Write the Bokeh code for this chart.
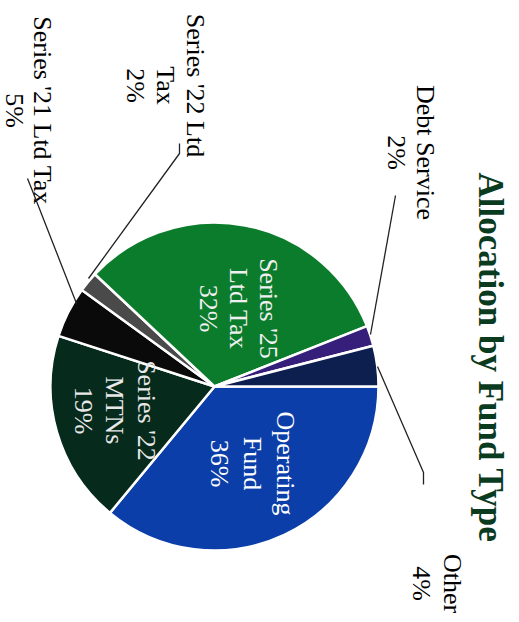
import math
from bokeh.plotting import figure
from bokeh.models import Range1d, ColumnDataSource
from bokeh.core.properties import value
from bokeh.embed import file_html
from bokeh.resources import INLINE

# ---- data ----
categories = ["Operating Fund", "Series '22 MTNs", "Series '21 Ltd Tax",
              "Series '22 Ltd Tax", "Series '25 Ltd Tax", "Debt Service", "Other"]
values = [36, 19, 5, 2, 32, 2, 4]
colors = ["#0b3ea8", "#062a1c", "#0a0a0a", "#4a4a4a", "#0b7c2b", "#361f7a", "#0c1f4f"]
label_lines = [["Operating", "Fund", "36%"],
               ["Series '22", "MTNs", "19%"],
               ["Series '21 Ltd Tax", "5%"],
               ["Series '22 Ltd", "Tax", "2%"],
               ["Series '25", "Ltd Tax", "32%"],
               ["Debt Service", "2%"],
               ["Other", "4%"]]
title = "Allocation by Fund Type"

W, H = 511, 614


def P(X, Y):
    # picture pixel -> data coordinates
    return X, H - Y


p = figure(width=W, height=H, output_backend="svg", toolbar_location=None,
           x_range=Range1d(0, W), y_range=Range1d(0, H), min_border=0)
p.axis.visible = False
p.grid.visible = False
p.outline_line_color = None
p.background_fill_color = "white"

cx, cy = P(214, 386)
R = 164

total = sum(values)
starts, ends = [], []
cum = 0.0
for v in values:
    a0 = cum / total * 2 * math.pi
    cum += v
    a1 = cum / total * 2 * math.pi
    # screen clockwise from 3 o'clock
    starts.append(-a1)
    ends.append(-a0)

src = ColumnDataSource(dict(start=starts, end=ends, color=colors, cat=categories))
p.wedge(x=cx, y=cy, radius=R, start_angle="start", end_angle="end",
        fill_color="color", line_color="white", line_width=2.5, source=src)

# label positions (picture px): list of line x's, and center y
label_pos = [
    ([285, 252, 219], 463, "white"),
    ([146, 114, 83], 410, "#e8e8e8"),
    ([42, 14], 110, "black"),
    ([195, 165, 135], 85, "black"),
    ([268, 238, 208], 308, "#f0f0f0"),
    ([425, 396], 152, "black"),
    ([452, 421], 583, "black"),
]
for lines, (xs, yc, col) in zip(label_lines, label_pos):
    for t, X in zip(lines, xs):
        x, y = P(X, yc)
        p.text(x=[x], y=[y], text=[t], angle=-math.pi / 2,
               text_align="center", text_baseline="middle",
               text_font=value("Liberation Serif"), text_font_size="26px",
               text_color=col)

# leader lines (picture px)
leaders = [
    [(395, 195), (370, 334)],
    [(377, 366), (423, 472), (423, 484)],
    [(179, 143), (179, 153), (88, 278)],
    [(27, 178), (33, 193), (76, 303)],
]
for pts in leaders:
    xs = [P(a, b)[0] for a, b in pts]
    ys = [P(a, b)[1] for a, b in pts]
    p.line(xs, ys, line_color="#222222", line_width=1.3)

tx, ty = P(490, 357)
p.text(x=[tx], y=[ty], text=[title], angle=-math.pi / 2,
       text_align="center", text_baseline="middle",
       text_font=value("Liberation Serif"), text_font_style="bold",
       text_font_size="35px", text_color="#0b3b1f")

open("out.html", "w").write(file_html(p, INLINE))
